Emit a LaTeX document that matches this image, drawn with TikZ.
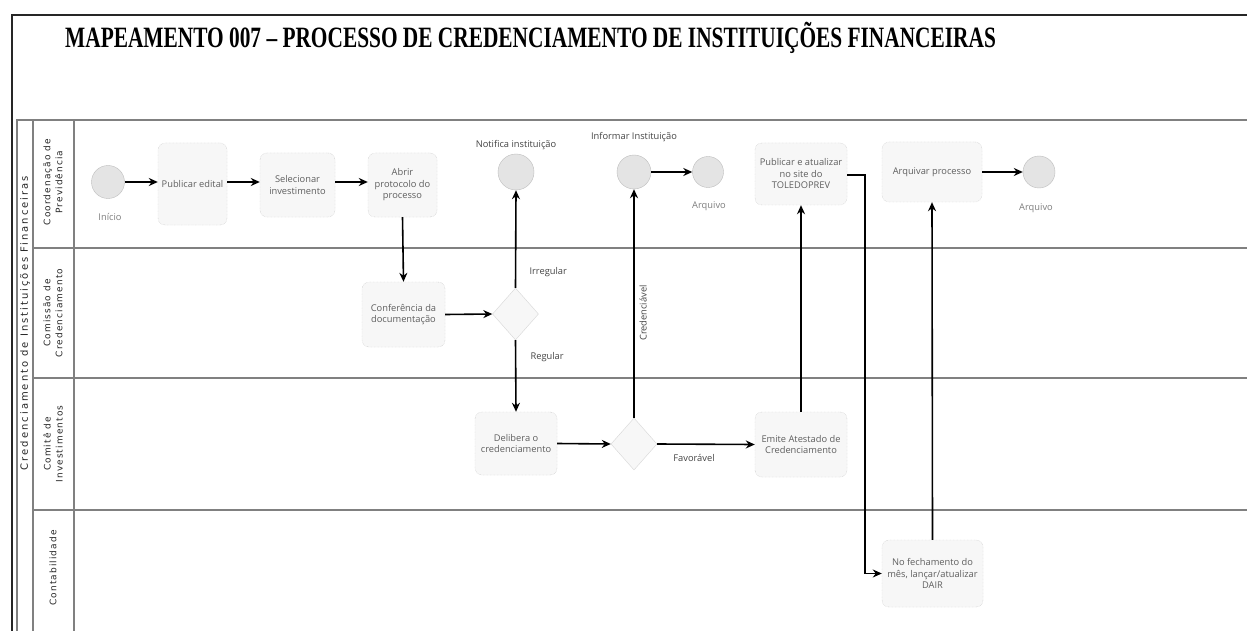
\documentclass[tikz,border=0pt]{standalone}
\usepackage{fontspec}
\setmainfont{Open Sans}
\newfontfamily\titlefont{Liberation Serif}
\newfontfamily\lanefont[LetterSpace=12]{DejaVu Sans}
\newfontfamily\poolfont[LetterSpace=20]{DejaVu Sans}
\usetikzlibrary{arrows.meta,shapes.geometric}
\definecolor{txt}{HTML}{5E5E5E}
\definecolor{lbl}{HTML}{444444}
\definecolor{boxfill}{HTML}{F7F7F7}
\definecolor{boxline}{HTML}{BDBDBD}
\definecolor{evfill}{HTML}{E4E4E4}
\definecolor{laneline}{HTML}{808080}
\tikzset{
  task/.style={rectangle, rounded corners=7pt, draw=boxline, densely dotted, fill=boxfill, text=txt,
    font=\fontsize{9.3}{11.5}\selectfont, align=center, inner sep=1pt},
  event/.style={circle, draw=boxline, fill=evfill, inner sep=0pt},
  gateway/.style={diamond, draw=boxline!60, fill=boxfill, inner sep=0pt},
  flow/.style={draw=black, line width=1.6pt, -{Stealth[length=9pt,width=8pt]}},
  elabel/.style={text=lbl, font=\fontsize{9.3}{11}\selectfont},
  glabel/.style={text=txt!80, font=\fontsize{9.3}{11}\selectfont},
  lanelabel/.style={rotate=90, text=black!85, font=\lanefont\fontsize{9}{12}\selectfont, align=center},
  poollabel/.style={rotate=90, text=black!85, font=\poolfont\fontsize{10}{12}\selectfont},
  frameline/.style={draw=laneline, line width=1.4pt}
}
\begin{document}
\begin{tikzpicture}[x=1pt,y=-1pt]
\useasboundingbox[fill=white] (0,0) rectangle (1247,631);
% outer frame
\draw[line width=1.6pt, black!85] (1247,15) -- (12,15) -- (12,631);
% title
\node[anchor=base west, inner sep=0pt] (title) at (65,48)
  {\scalebox{0.724}[1]{\titlefont\bfseries\fontsize{29.5}{30}\selectfont MAPEAMENTO 007 – PROCESSO DE CREDENCIAMENTO DE INSTITUIÇÕES FINANCEIRAS}};
% pool and lanes
\draw[frameline] (1247,120) -- (17,120) -- (17,631);
\draw[frameline] (33,120) -- (33,631);
\draw[frameline] (74,120) -- (74,631);
\draw[frameline] (33,248) -- (1247,248);
\draw[frameline] (33,378) -- (1247,378);
\draw[frameline] (33,510) -- (1247,510);
\node[poollabel] (pool) at (25,323) {Credenciamento de Instituições Financeiras};
\node[lanelabel] (l1) at (53,182) {Coordenação de\\Previdência};
\node[lanelabel] (l2) at (53,313) {Comissão de\\Credenciamento};
\node[lanelabel] (l3) at (53,444) {Comitê de\\Investimentos};
\node[lanelabel] (l4) at (53,568) {Contabilidade};
% nodes
\node[event, minimum size=33pt] (start) at (108,182) {};
\node[glabel] (startl) at (110,217) {Início};
\node[task, minimum width=69pt, minimum height=82pt] (pub) at (192.5,184) {Publicar edital};
\node[task, minimum width=75pt, minimum height=64pt] (sel) at (297.5,185) {Selecionar\\investimento};
\node[task, minimum width=69pt, minimum height=64pt] (abr) at (402.5,185) {Abrir\\protocolo do\\processo};
\node[task, minimum width=83pt, minimum height=65pt] (conf) at (403.5,314.5) {Conferência da\\documentação};
\node[gateway, minimum width=46pt, minimum height=52pt] (gw1) at (515.5,314) {};
\node[event, minimum size=36pt] (notif) at (516,172) {};
\node[elabel] (notifl) at (516,145) {Notifica instituição};
\node[task, minimum width=82pt, minimum height=63pt] (del) at (516,443.5) {Delibera o\\credenciamento};
\node[gateway, minimum width=46pt, minimum height=52pt] (gw2) at (634,444) {};
\node[event, minimum size=34pt] (inf) at (634,172) {};
\node[elabel] (infl) at (634,137) {Informar Instituição};
\node[event, minimum size=31pt] (arq1) at (708,172) {};
\node[glabel] (arq1l) at (709,206) {Arquivo};
\node[task, minimum width=92pt, minimum height=65pt] (emi) at (801,444.5) {Emite Atestado de\\Credenciamento};
\node[task, minimum width=92pt, minimum height=62pt] (pubs) at (801,174) {Publicar e atualizar\\no site do\\TOLEDOPREV};
\node[task, minimum width=100pt, minimum height=60pt] (arqp) at (932,172) {Arquivar processo};
\node[event, minimum size=32pt] (arq2) at (1039,172) {};
\node[glabel] (arq2l) at (1036,208) {Arquivo};
\node[task, minimum width=101pt, minimum height=67pt] (nof) at (932.5,573.5) {No fechamento do\\mês, lançar/atualizar\\DAIR};
% connectors
\draw[flow] (start.east) -- (start.east -| pub.west);
\draw[flow] (pub.east |- start) -- (sel.west |- start);
\draw[flow] (sel.east |- start) -- (abr.west |- start);
\draw[flow] (abr.south) -- (conf.north);
\draw[flow] (conf.east) -- (gw1.west);
\draw[flow] (gw1.north) -- (notif.south);
\draw[flow] (gw1.south) -- (del.north);
\draw[flow] (del.east) -- (gw2.west);
\draw[flow] (gw2.north) -- (inf.south);
\draw[flow] (inf.east) -- (arq1.west);
\draw[flow] (gw2.east) -- (emi.west);
\draw[flow] (emi.north) -- (pubs.south);
\coordinate (bend) at (865,175);
\draw[flow] (pubs.east |- bend) -- (bend) |- (nof.west);
\draw[flow] (nof.north) -- (arqp.south);
\draw[flow] (arqp.east) -- (arq2.west);
% edge labels
\node[elabel, anchor=west] (irr) at (526,272) {Irregular};
\node[elabel, anchor=west] (reg) at (527,357) {Regular};
\node[elabel] (fav) at (694,458) {Favorável};
\node[elabel, rotate=90] (cred) at (643,313) {Credenciável};
\end{tikzpicture}
\end{document}
